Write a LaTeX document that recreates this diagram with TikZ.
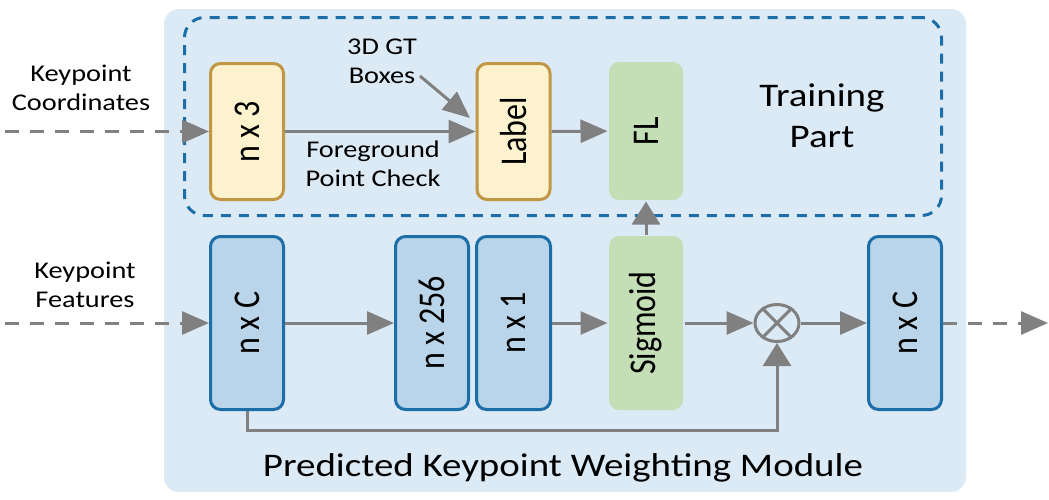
\documentclass[tikz,border=0pt]{standalone}
\usepackage{fontspec}
\setmainfont{Carlito}
\newfontfamily\wfont{Carlito}[FakeStretch=1.18]
\usetikzlibrary{arrows.meta,shapes.geometric}
\definecolor{bgblue}{RGB}{220,234,246}
\definecolor{dblue}{RGB}{27,110,168}
\definecolor{yfill}{RGB}{252,242,206}
\definecolor{ydraw}{RGB}{193,150,68}
\definecolor{bfill}{RGB}{186,212,233}
\definecolor{gfill}{RGB}{196,222,182}
\definecolor{agray}{RGB}{128,128,128}
\newcommand\vtext[1]{\rotatebox{90}{\scalebox{1}[1.18]{#1}}}
\begin{document}
\begin{tikzpicture}[x=1pt,y=-1pt,
  box/.style={rounded corners=10pt, inner sep=0pt, line width=3pt,
    font=\fontsize{32}{38}\selectfont},
  ybox/.style={box, fill=yfill, draw=ydraw, minimum width=73pt, minimum height=136pt},
  bbox/.style={box, fill=bfill, draw=dblue, minimum width=73pt, minimum height=173pt},
  gbox/.style={box, fill=gfill, minimum width=74pt},
  txt/.style={inner sep=0pt, align=center, font=\wfont\fontsize{24}{29}\selectfont},
  harr/.style={draw=agray, line width=3pt, -{Triangle[length=27pt,width=23pt]}},
  varr/.style={draw=agray, line width=3pt, -{Triangle[length=23pt,width=28pt]}},
  dashin/.style={harr, dash pattern=on 14pt off 11pt}
]
\useasboundingbox (0,0) rectangle (1049,499);
% background module
\node[fill=bgblue, rounded corners=15pt, minimum width=802pt, minimum height=483pt, inner sep=0pt] (module) at (565,250.5) {};
% training part dashed frame
\node[draw=dblue, line width=3pt, dash pattern=on 10pt off 8pt, rounded corners=20pt,
  minimum width=757pt, minimum height=198pt, inner sep=0pt] (train) at (563,116.5) {};

% boxes top row
\node[ybox] (n3) at (247,131.5) {\vtext{n x 3}};
\node[ybox] (label) at (513.5,131.5) {\vtext{Label}};
\node[gbox, minimum height=138pt] (fl) at (646,131) {\vtext{FL}};
% boxes bottom row
\node[bbox] (nc1) at (247,323) {\vtext{n x C}};
\node[bbox] (n256) at (432,323) {\vtext{n x 256}};
\node[bbox, minimum width=74pt] (n1) at (513.5,323) {\vtext{n x 1}};
\node[gbox, minimum height=174pt] (sig) at (646,323) {\vtext{Sigmoid}};
\node[bbox] (nc2) at (905,323) {\vtext{n x C}};
\node[ellipse, draw=agray, line width=3pt, minimum width=44pt, minimum height=37pt, inner sep=0pt] (mul) at (777,323) {};
\draw[agray, line width=3pt] (mul.45) -- (mul.225) (mul.135) -- (mul.315);

% texts
\node[txt] (kc) at (81,88) {Keypoint\\Coordinates};
\node[txt] (kf) at (85,285) {Keypoint\\Features};
\node[txt] (gt) at (382,61) {3D GT\\Boxes};
\node[txt] (fg) at (373,164) {Foreground\\Point Check};
\node[txt, font=\wfont\fontsize{33}{41}\selectfont] (tp) at (822,116) {Training\\Part};
\node[inner sep=0pt, anchor=base, font=\wfont\fontsize{33}{39}\selectfont] (title) at (563,476) {Predicted Keypoint Weighting Module};

% coordinates
\coordinate (kcin) at (5,131.5);
\coordinate (kfin) at (5,323);
\coordinate (out) at (1048,323);
\coordinate (gtstart) at (420,76);
\coordinate (gttip) at (470,118);
\coordinate (skip) at (247,430);

% connectors
\draw[dashin] (kcin) -- (n3.west);
\draw[dashin] (kfin) -- (nc1.west);
\draw[harr] (n3) -- (label);
\draw[harr] (gtstart) -- (gttip);
\draw[harr] (label) -- (fl);
\draw[harr] (nc1) -- (n256);
\draw[harr] (n1) -- (sig);
\draw[harr] (sig) -- (mul);
\draw[harr] (mul) -- (nc2);
\draw[dashin] (nc2.east) -- (out);
\draw[varr] (sig.north) -- (fl.south);
\draw[varr] (nc1.south) -- (skip) -| (mul.south);
\end{tikzpicture}
\end{document}
